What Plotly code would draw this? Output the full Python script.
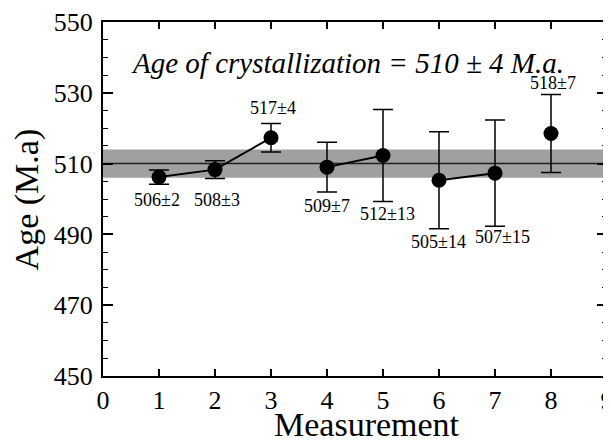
import plotly.graph_objects as go

# ---- data ----
measurement = [1, 2, 3, 4, 5, 6, 7, 8]
age = [506.2, 508.3, 517.3, 509.0, 512.3, 505.3, 507.3, 518.5]
err = [2, 2.5, 4, 7, 13, 13.7, 15, 11]
labels = ["506±2", "508±3", "517±4", "509±7", "512±13", "505±14", "507±15", "518±7"]
connected_groups = [[0, 1, 2], [3, 4], [5, 6]]
band_center = 510
band_err = 4
title_text = "Age of crystallization = 510 ± 4 M.a."
x_ticks = list(range(0, 10))
y_ticks = [450, 470, 490, 510, 530, 550]

# ---- style / placement ----
FONT = "Liberation Serif"
label_shift = [(-2, -23), (2, -30), (2, 30), (0, -39), (4, -59), (-1, -62), (7, -64), (2, 51)]

fig = go.Figure()

# band
fig.add_shape(type="rect", xref="x", yref="y", x0=0, x1=9,
              y0=band_center - band_err, y1=band_center + band_err,
              fillcolor="rgb(160,160,160)", line=dict(width=0), layer="below")
fig.add_shape(type="line", xref="x", yref="y", x0=0, x1=9,
              y0=band_center, y1=band_center,
              line=dict(color="rgb(30,30,30)", width=1.5), layer="below")

# connecting lines
for g in connected_groups:
    fig.add_trace(go.Scatter(x=[measurement[i] for i in g], y=[age[i] for i in g],
                             mode="lines", line=dict(color="black", width=2),
                             showlegend=False, hoverinfo="skip"))

# points with error bars
fig.add_trace(go.Scatter(
    x=measurement, y=age, mode="markers",
    marker=dict(color="black", size=15),
    error_y=dict(type="data", array=err, visible=True, color="black",
                 thickness=1.5, width=10),
    showlegend=False))

# point labels
for xi, yi, t, (dx, dy) in zip(measurement, age, labels, label_shift):
    fig.add_annotation(x=xi, y=yi, text=t, showarrow=False, xshift=dx, yshift=dy,
                       font=dict(family=FONT, size=18, color="black"))

# title inside plot
fig.add_annotation(xref="paper", yref="paper", x=0.485, y=0.883, text=f"<i>{title_text}</i>",
                   showarrow=False, xanchor="center", yanchor="middle",
                   font=dict(family=FONT, size=29, color="black"))

# axis titles
fig.add_annotation(xref="paper", yref="paper", x=0.524, y=-0.195, text="Measurement",
                   showarrow=False, xanchor="center", yanchor="bottom",
                   font=dict(family=FONT, size=34, color="black"))
fig.add_annotation(xref="paper", yref="paper", x=-0.15, y=0.5, text="Age (M.a)",
                   showarrow=False, textangle=-90, xanchor="center", yanchor="middle",
                   font=dict(family=FONT, size=34, color="black"))

axis_common = dict(showgrid=False, zeroline=False, showline=True, linecolor="black",
                   linewidth=2, mirror="ticks", ticks="inside", tickcolor="black",
                   automargin=False,
                   tickfont=dict(family=FONT, size=26, color="black"))

fig.update_xaxes(range=[0, 9], tickvals=x_ticks, ticklen=7, tickwidth=1.5,
                 ticklabeloverflow="allow", **axis_common)
fig.update_yaxes(range=[450, 550], tickvals=y_ticks, ticklen=10, tickwidth=1.5,
                 ticklabelstandoff=3,
                 minor=dict(dtick=5, ticks="inside", ticklen=5, tickcolor="black", tickwidth=1.2),
                 **axis_common)

# the page body adds an 8px offset, so margins are set to land the plot area
# at the reference position inside the 611x445 window
fig.update_layout(width=611, height=445, margin=dict(l=95, r=12, t=14, b=77),
                  plot_bgcolor="white", paper_bgcolor="white")

fig.write_html("out.html")
